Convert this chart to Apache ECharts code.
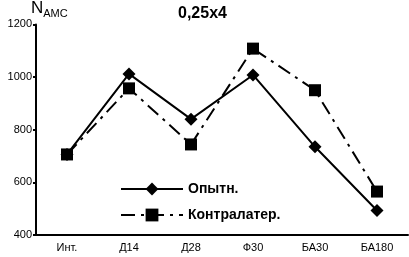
<!DOCTYPE html>
<html>
<head>
<meta charset="utf-8">
<script src="https://cdn.jsdelivr.net/npm/echarts@6/dist/echarts.min.js"></script>
<style>
html,body{margin:0;padding:0;background:#fff;}
#chart{width:409px;height:257px;}
</style>
</head>
<body>
<div id="chart"></div>
<script>
var categories = ['Инт.', 'Д14', 'Д28', 'Ф30', 'БА30', 'БА180'];
var opytn = [706, 1012, 840, 1008, 735, 493];
var kontr = [706, 957, 744, 1108, 950, 565];
var yTicks = [400, 600, 800, 1000, 1200];

var myChart = echarts.init(document.getElementById('chart'));
var font = 'Liberation Sans, Arial, sans-serif';
var option = {
    animation: false,
    title: {
        text: '0,25x4',
        left: 173,
        top: 1,
        textStyle: {color: '#000', fontSize: 16, fontWeight: 'bold', fontFamily: font}
    },
    grid: {left: 36, right: 1, top: 21, bottom: 22},
    legend: {
        orient: 'vertical',
        left: 115,
        top: 177,
        itemGap: 12,
        itemWidth: 62,
        itemHeight: 16,
        textStyle: {color: '#000', fontSize: 14, fontWeight: 'bold', fontFamily: font},
        data: ['Опытн.', 'Контралатер.']
    },
    xAxis: {
        type: 'category',
        data: categories,
        boundaryGap: true,
        axisLine: {lineStyle: {color: '#000', width: 2}},
        axisTick: {inside: true, length: 3, lineStyle: {color: '#000', width: 2}},
        axisLabel: {color: '#000', fontSize: 11, fontFamily: font, margin: 7},
        splitLine: {show: false}
    },
    yAxis: {
        type: 'value',
        min: 400,
        max: 1200,
        interval: 200,
        name: '{n|N}{s|AMC}',
        nameLocation: 'end',
        nameGap: 2,
        nameTextStyle: {
            align: 'left',
            padding: [0, 0, 0, -5],
            rich: {
                n: {fontSize: 17, color: '#000', fontFamily: font, verticalAlign: 'bottom'},
                s: {fontSize: 11, color: '#000', fontFamily: font, verticalAlign: 'bottom', padding: [0, 0, -2, 0]}
            }
        },
        axisLine: {show: true, lineStyle: {color: '#000', width: 2}},
        axisTick: {show: true, length: 3, lineStyle: {color: '#000', width: 2}},
        axisLabel: {color: '#000', fontSize: 11, fontFamily: font, margin: 4,
            formatter: function (v) { return yTicks.indexOf(v) >= 0 ? String(v) : ''; }},
        splitLine: {show: false}
    },
    series: [
        {
            name: 'Опытн.',
            type: 'line',
            data: opytn,
            symbol: 'diamond',
            symbolSize: 13,
            itemStyle: {color: '#000'},
            lineStyle: {color: '#000', width: 2}
        },
        {
            name: 'Контралатер.',
            type: 'line',
            data: kontr,
            symbol: 'rect',
            symbolSize: 12,
            itemStyle: {color: '#000'},
            lineStyle: {color: '#000', width: 2, type: [14, 6, 3, 6]}
        }
    ]
};
myChart.setOption(option);
</script>
</body>
</html>
